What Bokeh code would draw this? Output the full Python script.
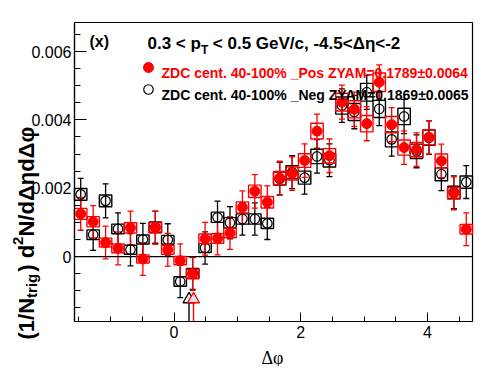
import math
from bokeh.plotting import figure
from bokeh.models import (ColumnDataSource, FixedTicker, Label, Whisker, TeeHead, Range1d)
from bokeh.embed import file_html
from bokeh.resources import INLINE

# ---------------- data ----------------
dphi = [-1.473, -1.276, -1.080, -0.884, -0.687, -0.491, -0.295, -0.098,
        0.098, 0.295, 0.491, 0.687, 0.884, 1.080, 1.276, 1.473,
        1.669, 1.865, 2.062, 2.258, 2.454, 2.651, 2.847, 3.043,
        3.240, 3.436, 3.632, 3.829, 4.025, 4.221, 4.418, 4.614]
bin_width = 0.19635

pos_val = [1.25, 1.02, 0.41, 0.24, 0.84, -0.07, 0.84, 0.20,
           -0.12, -0.51, 0.52, 0.53, 0.69, 1.44, 1.91, 1.59,
           2.30, 2.43, 2.81, 3.67, 2.95, 4.52, 4.31, 3.89,
           5.10, 3.86, 3.19, 3.13, 3.49, 2.80, 1.85, 0.80]
pos_stat = [0.48, 0.47, 0.48, 0.48, 0.49, 0.48, 0.48, 0.48,
            0.49, 0.48, 0.48, 0.48, 0.48, 0.48, 0.49, 0.48,
            0.49, 0.49, 0.49, 0.50, 0.49, 0.50, 0.50, 0.50,
            0.51, 0.50, 0.49, 0.49, 0.49, 0.49, 0.48, 0.48]
pos_sys = [0.16, 0.15, 0.13, 0.13, 0.15, 0.12, 0.15, 0.13,
           0.12, 0.14, 0.14, 0.14, 0.14, 0.16, 0.18, 0.17,
           0.19, 0.19, 0.20, 0.23, 0.21, 0.26, 0.25, 0.24,
           0.27, 0.24, 0.22, 0.21, 0.22, 0.20, 0.17, 0.14]

neg_val = [1.82, 0.64, 1.63, 0.81, 0.20, 0.50, 0.86, 0.49,
           -0.73, -0.49, 0.25, 1.15, 0.99, 1.10, 1.10, 0.97,
           2.28, 2.47, 2.31, 2.93, 2.82, 4.42, 4.23, 4.81,
           4.32, 3.43, 4.10, 3.08, 3.48, 2.41, 1.88, 2.18]
neg_stat = [0.47, 0.46, 0.50, 0.47, 0.47, 0.47, 0.47, 0.47,
            0.47, 0.47, 0.47, 0.47, 0.47, 0.47, 0.47, 0.47,
            0.48, 0.48, 0.48, 0.49, 0.48, 0.49, 0.49, 0.50,
            0.49, 0.49, 0.50, 0.48, 0.49, 0.48, 0.48, 0.48]
neg_sys = [0.17, 0.14, 0.17, 0.14, 0.13, 0.13, 0.15, 0.13,
           0.14, 0.14, 0.13, 0.15, 0.15, 0.15, 0.15, 0.15,
           0.19, 0.19, 0.19, 0.21, 0.20, 0.25, 0.25, 0.26,
           0.25, 0.22, 0.24, 0.21, 0.22, 0.19, 0.18, 0.18]
scale = 1e-3

# ZYAM minimum markers (x position, marker y)
zyam_x = [0.237, 0.308]
zyam_y = [-1.25, -1.25]
zyam_colors = ["black", "red"]
zyam_fills = ["white", "#e2e2e2"]

x_major = [0, 2, 4]
x_minor = [-1.5, -1.0, -0.5, 0.5, 1.0, 1.5, 2.5, 3.0, 3.5, 4.5]
y_major = [0, 0.002, 0.004, 0.006]
y_major_labels = ["0", "0.002", "0.004", "0.006"]
y_minor = [-0.0015, -0.001, -0.0005, 0.0005, 0.001, 0.0015, 0.0025, 0.003,
           0.0035, 0.0045, 0.005, 0.0055, 0.0065]

legend_pos = "ZDC cent. 40-100% _Pos ZYAM=0.1789\u00b10.0064"
legend_neg = "ZDC cent. 40-100% _Neg ZYAM=0.1869\u00b10.0065"

X_LO, X_HI = -math.pi / 2, 3 * math.pi / 2
Y_LO, Y_HI = -0.0019, 0.00685

FONT = "Liberation Sans"

# ---------------- layout (pixels) ----------------
W, H = 488, 366
ML, MT, MR, MB = 74, 22, 16, 45          # frame box margins inside the canvas
kx = (W - ML - MR) / (X_HI - X_LO)
ky = (H - MT - MB) / (Y_HI - Y_LO)
XF_LO, XF_HI = X_LO - ML / kx, X_HI + MR / kx
YF_LO, YF_HI = Y_LO - MB / ky, Y_HI + MT / ky

p = figure(width=W, height=H, x_range=Range1d(XF_LO, XF_HI),
           y_range=Range1d(YF_LO, YF_HI),
           output_backend="svg", toolbar_location=None,
           min_border_left=0, min_border_right=0, min_border_top=0,
           min_border_bottom=0)
p.grid.visible = False
p.outline_line_color = None
p.background_fill_color = "white"
p.border_fill_color = "white"

# axes drawn at the edges of the ROOT-style frame
p.xaxis.fixed_location = Y_LO
p.yaxis.fixed_location = X_LO
p.xaxis.bounds = (X_LO, X_HI)
p.yaxis.bounds = (Y_LO, Y_HI)
p.xaxis.ticker = FixedTicker(ticks=x_major, minor_ticks=x_minor)
p.yaxis.ticker = FixedTicker(ticks=y_major, minor_ticks=y_minor)
p.yaxis.major_label_overrides = {t: l for t, l in zip(y_major, y_major_labels)}
for ax in (p.xaxis, p.yaxis):
    ax.axis_line_color = "black"
    ax.axis_line_width = 1.2
    ax.major_tick_out = 0
    ax.minor_tick_out = 0
    ax.major_tick_line_color = "black"
    ax.minor_tick_line_color = "black"
    ax.major_label_text_font = FONT
    ax.major_label_text_font_size = "16px"
    ax.major_label_text_color = "black"
p.xaxis.major_tick_in = 9
p.xaxis.minor_tick_in = 5
p.yaxis.major_tick_in = 12
p.yaxis.minor_tick_in = 6
p.yaxis.major_label_standoff = 3
p.xaxis.major_label_standoff = 4

# frame box
p.quad(left=[X_LO], right=[X_HI], bottom=[Y_LO], top=[Y_HI],
       fill_color=None, line_color="black", line_width=1.2)
# zero line
p.segment(x0=[X_LO], y0=[0], x1=[X_HI], y1=[0], line_color="black", line_width=1.3)


def series(vals, stat, sys_, color, filled, size):
    v = [a * scale for a in vals]
    src = ColumnDataSource(dict(
        x=dphi, y=v,
        up=[a + b * scale for a, b in zip(v, stat)],
        lo=[a - b * scale for a, b in zip(v, stat)],
        top=[a + b * scale for a, b in zip(v, sys_)],
        bot=[a - b * scale for a, b in zip(v, sys_)],
        left=[x - bin_width / 2 for x in dphi],
        right=[x + bin_width / 2 for x in dphi],
    ))
    p.quad(left="left", right="right", top="top", bottom="bot", source=src,
           fill_alpha=0, line_color=color, line_width=1.4)
    p.add_layout(Whisker(source=src, base="x", upper="up", lower="lo",
                         line_color=color, line_width=1.3,
                         upper_head=TeeHead(size=6, line_color=color, line_width=1.3),
                         lower_head=TeeHead(size=6, line_color=color, line_width=1.3)))
    if filled:
        p.scatter("x", "y", source=src, size=size, marker="circle",
                  fill_color=color, line_color=color)
    else:
        p.scatter("x", "y", source=src, size=size, marker="circle",
                  fill_alpha=0, line_color=color, line_width=1.2)


series(neg_val, neg_stat, neg_sys, "black", False, 9.5)
series(pos_val, pos_stat, pos_sys, "red", True, 10)

# ZYAM arrows
for xz, yz, c, f in zip(zyam_x, zyam_y, zyam_colors, zyam_fills):
    p.segment(x0=[xz], y0=[yz * scale - 0.0001], x1=[xz], y1=[Y_LO],
              line_color=c, line_width=1.4)
    p.scatter([xz], [yz * scale], marker="triangle", size=12,
              fill_color=f, line_color=c, line_width=1.3)

# ---------------- texts (page pixel positions) ----------------


def lab(text, px, py, size, bold=False, color="black", angle=0.0,
        align="left", font=FONT):
    p.add_layout(Label(x=px, y=H - py, x_units="screen", y_units="screen",
                       text=text, text_font=font, text_font_size=f"{size}px",
                       text_font_style="bold" if bold else "normal",
                       text_color=color, angle=angle, text_align=align,
                       text_baseline="alphabetic"))


def page_to_data(px, py):
    return XF_LO + px / kx, YF_HI - py / ky


lab("(x)", 89, 41, 16, bold=True)
lab("0.3 < p", 147, 43, 17, bold=True)
lab("T", 200.5, 49, 12, bold=True)
lab("< 0.5 GeV/c, -4.5<\u0394\u03b7<-2", 212.3, 43, 17, bold=True)

lab(legend_pos, 161, 72, 14, bold=True, color="red")
lab(legend_neg, 161, 94, 14, bold=True, color="black")
rx, ry = page_to_data(148, 67)
bx, by = page_to_data(148, 89)
p.scatter([rx], [ry], size=10, marker="circle", fill_color="red", line_color="red")
p.scatter([bx], [by], size=9.5, marker="circle", fill_alpha=0, line_color="black",
          line_width=1.2)

# x axis title
lab("\u0394\u03c6", 272, 357, 18, align="center", font="Liberation Serif")

# y axis title (rotated), built from pieces going upward
ang = math.pi / 2
BX = 26
Y0 = 339
F = 22
S = 15
yy = Y0
lab("(1/N", BX, yy, F, bold=True, angle=ang)
yy -= 1.889 * F
lab("trig", BX + 5, yy, S, bold=True, angle=ang)
yy -= 1.611 * S + 2
lab(")", BX, yy, F, bold=True, angle=ang)
yy -= (0.333 + 0.278) * F
lab("d", BX, yy, F, bold=True, angle=ang)
yy -= 0.611 * F
lab("2", BX - 9, yy, S, bold=True, angle=ang)
yy -= 0.556 * S
lab("N/d\u0394\u03b7d\u0394\u03c6", BX, yy, F, bold=True, angle=ang)

open("out.html", "w").write(file_html(p, INLINE))
